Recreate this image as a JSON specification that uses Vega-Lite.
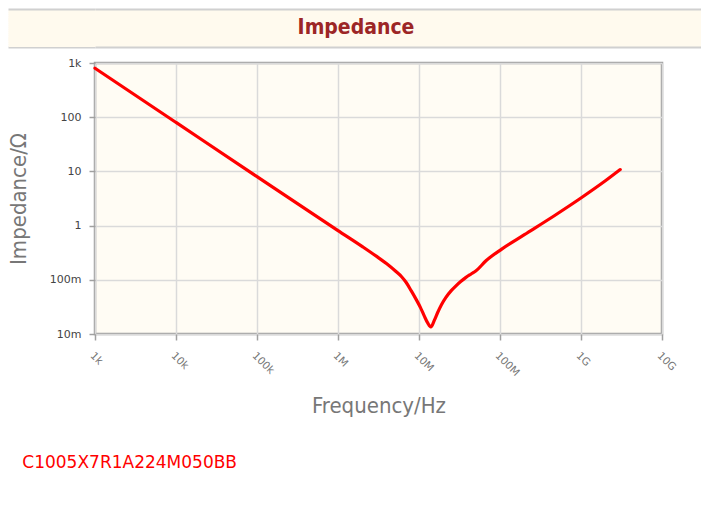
{
  "$schema": "https://vega.github.io/schema/vega-lite/v6.json",
  "background": "white",
  "padding": {"left": 6, "top": 8, "right": 0, "bottom": 0},
  "spacing": 7,
  "vconcat": [
    {
      "width": 700,
      "height": 38,
      "view": {"fill": "#fffaee", "stroke": null},
      "data": {"values": [{"t": "Impedance"}]},
      "mark": {"type": "text", "font": "DejaVu Sans Condensed", "fontWeight": "bold", "fontSize": 21, "color": "#9c2626", "dx": -89},
      "encoding": {
        "text": {"field": "t", "type": "nominal"},
        "y": {
          "datum": 0.5,
          "type": "quantitative",
          "scale": {"domain": [0, 1], "nice": false, "zero": false},
          "axis": {
            "values": [0, 0.05, 0.1, 0.15, 0.2, 0.25, 0.3, 0.35, 0.4, 0.45, 0.5, 0.55, 0.6, 0.65, 0.7, 0.75, 0.8, 0.85, 0.9, 0.95, 1],
            "labels": false,
            "title": null,
            "domain": false,
            "tickSize": 87,
            "tickColor": {"condition": {"test": "datum.value == 0 || datum.value == 1", "value": "#d0d0d0"}, "value": "#fffaee"},
            "tickWidth": {"condition": {"test": "datum.value == 0 || datum.value == 1", "value": 2}, "value": 3},
            "grid": true,
            "gridColor": {"condition": {"test": "datum.value == 0 || datum.value == 1", "value": "#d0d0d0"}, "value": "transparent"},
            "gridWidth": 2
          }
        }
      }
    },
    {
      "width": 567,
      "height": 271,
      "view": {"fill": "#fffcf4", "stroke": "#9e9e9e", "strokeWidth": 2.5},
      "title": {
        "text": "C1005X7R1A224M050BB",
        "orient": "bottom",
        "anchor": "start",
        "frame": "bounds",
        "color": "#ff0000",
        "font": "DejaVu Sans",
        "fontSize": 17,
        "fontWeight": "normal",
        "offset": 39,
        "dx": 15
      },
      "data": {
        "values": [
          {"f": 1000, "z": 800},
          {"f": 10000, "z": 80},
          {"f": 100000, "z": 8},
          {"f": 1000000, "z": 0.81},
          {"f": 2000000, "z": 0.41},
          {"f": 3000000, "z": 0.27},
          {"f": 4000000, "z": 0.197},
          {"f": 5200000, "z": 0.142},
          {"f": 6100000, "z": 0.114},
          {"f": 6920000, "z": 0.09},
          {"f": 8000000, "z": 0.063},
          {"f": 9180000, "z": 0.044},
          {"f": 10400000, "z": 0.031},
          {"f": 11600000, "z": 0.0216},
          {"f": 12800000, "z": 0.016},
          {"f": 14000000, "z": 0.0135},
          {"f": 15500000, "z": 0.018},
          {"f": 17000000, "z": 0.0249},
          {"f": 19000000, "z": 0.035},
          {"f": 21500000, "z": 0.0473},
          {"f": 25000000, "z": 0.063},
          {"f": 28600000, "z": 0.0775},
          {"f": 33000000, "z": 0.094},
          {"f": 38000000, "z": 0.1107},
          {"f": 44000000, "z": 0.128},
          {"f": 50600000, "z": 0.1466},
          {"f": 67100000, "z": 0.2244},
          {"f": 105000000, "z": 0.369},
          {"f": 200000000, "z": 0.68},
          {"f": 468000000, "z": 1.52},
          {"f": 1030000000, "z": 3.33},
          {"f": 2000000000, "z": 6.7},
          {"f": 3050000000, "z": 10.8}
        ]
      },
      "mark": {"type": "line", "color": "#ff0000", "strokeWidth": 3.2, "interpolate": "monotone", "strokeCap": "round"},
      "encoding": {
        "x": {
          "field": "f",
          "type": "quantitative",
          "scale": {"type": "log", "domain": [1000, 10000000000], "nice": false},
          "axis": {
            "values": [1000, 10000, 100000, 1000000, 10000000, 100000000, 1000000000, 10000000000],
            "format": "~s",
            "labelAngle": 45,
            "labelAlign": "left",
            "labelBaseline": "top",
            "labelPadding": 10,
            "labelFont": "DejaVu Sans",
            "labelFontSize": 10.5,
            "labelColor": "#777777",
            "labelFlush": false,
            "labelOverlap": false,
            "tickSize": 6,
            "tickColor": "#a0a0a0",
            "tickWidth": 1.5,
            "domain": false,
            "grid": true,
            "gridColor": "#dadada",
            "gridWidth": 1.5,
            "title": "Frequency/Hz",
            "titleFont": "DejaVu Sans Condensed",
            "titleFontSize": 22,
            "titleFontWeight": "normal",
            "titleColor": "#777777",
            "titlePadding": 17
          }
        },
        "y": {
          "field": "z",
          "type": "quantitative",
          "scale": {"type": "log", "domain": [0.01, 1000], "nice": false},
          "axis": {
            "values": [0.01, 0.1, 1, 10, 100, 1000],
            "format": "~s",
            "labelFont": "DejaVu Sans",
            "labelFontSize": 11,
            "labelColor": "#444444",
            "labelPadding": 8,
            "labelFlush": false,
            "labelOverlap": false,
            "tickSize": 6,
            "tickColor": "#a0a0a0",
            "tickWidth": 1.5,
            "domain": false,
            "grid": true,
            "gridColor": "#dadada",
            "gridWidth": 1.5,
            "title": "Impedance/Ω",
            "titleFont": "DejaVu Sans Condensed",
            "titleFontSize": 22,
            "titleFontWeight": "normal",
            "titleColor": "#777777",
            "titlePadding": 19
          }
        }
      }
    }
  ]
}
